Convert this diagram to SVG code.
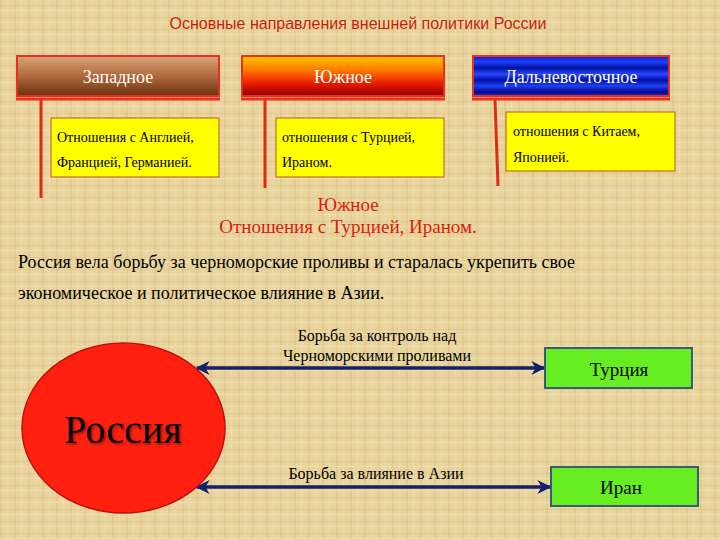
<svg xmlns="http://www.w3.org/2000/svg" width="720" height="540" viewBox="0 0 720 540">
<defs>
<pattern id="paper" width="14" height="12" patternUnits="userSpaceOnUse">
<rect width="14" height="12" fill="#E8D49C"/>
<rect x="0" y="0" width="2" height="12" fill="#DCC48A" opacity="0.6"/>
<rect x="7" y="0" width="1" height="12" fill="#F2E2B4" opacity="0.7"/>
<rect x="0" y="5" width="14" height="1" fill="#D8C088" opacity="0.5"/>
<rect x="0" y="10" width="14" height="1" fill="#F4E6BC" opacity="0.6"/>
</pattern>
<linearGradient id="gWest" x1="0" y1="0" x2="0" y2="1">
<stop offset="0" stop-color="#D9A478"/>
<stop offset="0.5" stop-color="#B06A3C"/>
<stop offset="1" stop-color="#6A3210"/>
</linearGradient>
<linearGradient id="gSouth" x1="0" y1="0" x2="0" y2="1">
<stop offset="0" stop-color="#FFC800"/>
<stop offset="0.35" stop-color="#FF7A00"/>
<stop offset="0.7" stop-color="#E81800"/>
<stop offset="1" stop-color="#8A0000"/>
</linearGradient>
<linearGradient id="gEast" x1="0" y1="0" x2="0" y2="1">
<stop offset="0" stop-color="#1020C0"/>
<stop offset="0.15" stop-color="#2040FF"/>
<stop offset="0.3" stop-color="#0010A0"/>
<stop offset="0.45" stop-color="#2848FF"/>
<stop offset="0.6" stop-color="#0010A8"/>
<stop offset="0.75" stop-color="#2040F0"/>
<stop offset="0.9" stop-color="#000890"/>
<stop offset="1" stop-color="#1830D0"/>
</linearGradient>
<marker id="ah" viewBox="0 0 10 10" refX="9" refY="5" markerWidth="4" markerHeight="4" orient="auto-start-reverse" markerUnits="strokeWidth">
<path d="M0,0 L10,5 L0,10 L3,5 z" fill="#14206A"/>
</marker>
<filter id="shadow" x="-10%" y="-10%" width="130%" height="130%">
<feDropShadow dx="1.5" dy="1.5" stdDeviation="0.8" flood-color="#000" flood-opacity="0.45"/>
</filter>
</defs>
<style>
.serif{font-family:"Liberation Serif","Times New Roman",serif}
.hdr{fill:#FFFFFF;font-size:18px;text-anchor:middle}
.hbox{stroke:#E83020;stroke-width:2}
.hline{stroke:#E83020;stroke-width:3}
.vline{stroke:#E02A18;stroke-width:3}
.ybox{fill:#FFFF00;stroke:#B85A20;stroke-width:1}
.ytxt{fill:#000;font-size:14px}
.red{fill:#D81E10}
.lbl{fill:#000;font-size:16px;text-anchor:middle}
.gbox{fill:#66EE22;stroke:#3A5A7A;stroke-width:2}
.arrow{stroke:#14206A;stroke-width:3.5;fill:none}
</style>
<rect width="720" height="540" fill="url(#paper)"/>

<text x="358" y="29" text-anchor="middle" font-family="Liberation Sans, Arial, sans-serif" font-size="16" fill="#C81E10">Основные направления внешней политики России</text>

<g id="connectors">
<line class="vline" x1="41" y1="99" x2="41" y2="198"/>
<line class="vline" x1="265" y1="99" x2="265" y2="188"/>
<line class="vline" x1="495" y1="100" x2="498" y2="186"/>
<line class="arrow" x1="197" y1="368" x2="544" y2="368" marker-start="url(#ah)" marker-end="url(#ah)"/>
<line class="arrow" x1="197" y1="487" x2="550" y2="487" marker-start="url(#ah)" marker-end="url(#ah)"/>
</g>

<g id="west">
<rect class="hbox" x="17" y="56" width="202" height="40" fill="url(#gWest)"/>
<line class="hline" x1="16" y1="99" x2="220" y2="99"/>
<text class="serif hdr" x="118" y="83">Западное</text>
</g>
<g id="south">
<rect class="hbox" x="242" y="56" width="202" height="40" fill="url(#gSouth)"/>
<line class="hline" x1="241" y1="99" x2="445" y2="99"/>
<text class="serif hdr" x="343" y="83">Южное</text>
</g>
<g id="east">
<rect class="hbox" x="473" y="56" width="196" height="40" fill="url(#gEast)"/>
<line class="hline" x1="472" y1="99" x2="670" y2="99"/>
<text class="serif hdr" x="571" y="83">Дальневосточное</text>
</g>

<g id="west-rel">
<rect class="ybox" x="51" y="118" width="168" height="59"/>
<text class="serif ytxt" x="57" y="142">Отношения с Англией,</text>
<text class="serif ytxt" x="57" y="167">Францией, Германией.</text>
</g>
<g id="south-rel">
<rect class="ybox" x="276" y="118" width="168" height="59"/>
<text class="serif ytxt" x="282" y="142">отношения с Турцией,</text>
<text class="serif ytxt" x="282" y="167">Ираном.</text>
</g>
<g id="east-rel">
<rect class="ybox" x="506" y="112" width="169" height="59"/>
<text class="serif ytxt" x="513" y="136">отношения с Китаем,</text>
<text class="serif ytxt" x="513" y="162">Японией.</text>
</g>

<g id="south-heading">
<text class="serif red" x="348" y="211" text-anchor="middle" font-size="19">Южное</text>
<text class="serif red" x="348" y="233" text-anchor="middle" font-size="19">Отношения с Турцией, Ираном.</text>
</g>

<g id="paragraph">
<text class="serif" x="18" y="268" font-size="18" fill="#000">Россия вела борьбу за черноморские проливы и старалась укрепить свое</text>
<text class="serif" x="18" y="299" font-size="18" fill="#000">экономическое и политическое влияние в Азии.</text>
</g>

<g id="russia">
<ellipse cx="123.5" cy="428" rx="101.5" ry="85" fill="#FF2010" stroke="#C01008" stroke-width="1.5"/>
<text class="serif" x="123" y="443" text-anchor="middle" font-size="40" fill="#000" filter="url(#shadow)">Россия</text>
</g>

<g id="turkey">
<rect class="gbox" x="545" y="348" width="147" height="40"/>
<text class="serif" x="619" y="376" text-anchor="middle" font-size="19" fill="#000">Турция</text>
</g>
<g id="iran">
<rect class="gbox" x="551" y="467" width="147" height="39"/>
<text class="serif" x="621" y="494" text-anchor="middle" font-size="19" fill="#000">Иран</text>
</g>

<g id="labels">
<text class="serif lbl" x="377" y="341">Борьба за контроль над</text>
<text class="serif lbl" x="377" y="361">Черноморскими проливами</text>
<text class="serif lbl" x="376" y="479">Борьба за влияние в Азии</text>
</g>
</svg>
